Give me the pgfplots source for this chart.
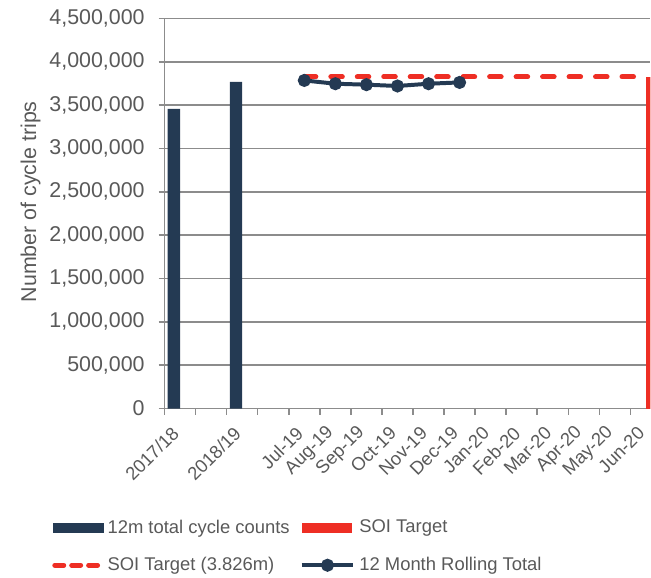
\documentclass[border=0pt]{standalone}
\usepackage{fontspec}
\setmainfont{Liberation Sans}
\usepackage{pgfplots}
\pgfplotsset{compat=1.18}

\definecolor{navy}{HTML}{243A53}
\definecolor{soired}{HTML}{EE2E24}
\definecolor{txt}{HTML}{595959}
\definecolor{axgray}{HTML}{8C8C8C}

\pgfplotsset{
  barlegend/.style={legend image code/.code={\fill[#1] (0pt,-2.6pt) rectangle (25.5pt,2.6pt);}},
  linelegend/.style={legend image code/.code={\draw[mark repeat=2, mark phase=2, ##1] plot coordinates {(0pt,0pt) (13pt,0pt) (26pt,0pt)};}},
  dashlegend/.style={legend image code/.code={\draw[##1, dash pattern=on 4.5pt off 4pt] (1pt,0pt) -- (24pt,0pt);}},
}

\begin{document}
\begin{tikzpicture}
\begin{axis}[
  scale only axis,
  width=244pt, height=196pt,
  xmin=-0.5, xmax=15.14,
  ymin=0, ymax=4500000,
  axis x line*=bottom, axis y line*=left,
  axis line style={axgray, line width=0.75pt},
  tick align=outside, major tick length=3pt,
  tick style={axgray, line width=0.75pt},
  ytick={0,500000,...,4500000},
  scaled y ticks=false,
  yticklabel style={/pgf/number format/.cd, fixed, 1000 sep={,}, assume math mode=true,
    /tikz/.cd, xshift=-3.5pt},
  ymajorgrids, grid style={axgray, line width=0.75pt},
  xtick={-0.5,0.5,...,14.5},
  xticklabels={,,,,,,,,,,,,,,,,,},
  extra x ticks={0,...,15},
  extra x tick labels={2017/18,,2018/19,,Jul-19,Aug-19,Sep-19,Oct-19,Nov-19,Dec-19,Jan-20,Feb-20,Mar-20,Apr-20,May-20,Jun-20},
  extra x tick style={major tick length=0pt, grid=none,
    xticklabel style={anchor=east, inner sep=1pt, xshift=-1.5pt, yshift=-10pt, rotate=45,
      font=\fontsize{9.25}{11}\selectfont}},
  ticklabel style={font=\fontsize{10.75}{12.6}\selectfont, text=txt},
  ylabel={Number of cycle trips},
  every axis y label/.style={at={(axis description cs:-0.276,0.53)}, rotate=90, anchor=center,
    font=\fontsize{10.75}{12.6}\selectfont, text=txt},
  legend columns=2,
  legend cell align=left,
  legend style={draw=none, fill=none, font=\fontsize{9.25}{11}\selectfont, text=txt,
    at={(-0.232,-0.274)}, anchor=north west, row sep=6.5pt, inner sep=0pt,
    /tikz/every even column/.append style={column sep=3pt}},
]
\addplot[ybar, bar width=0.4, bar shift=-0.2, fill=navy, draw=none, barlegend=navy]
  coordinates {(0,3456000) (2,3767000)};
\addlegendentry{12m total cycle counts}
\addplot[ybar, bar width=0.4, bar shift=0.2, fill=soired, draw=none, overlay, barlegend=soired]
  coordinates {(15,3826000)};
\addlegendentry{SOI Target}
\addplot[soired, line width=2.5pt, line cap=round, dash pattern=on 5.8pt off 7.5pt, dashlegend]
  coordinates {(4,3826000) (15,3826000)};
\addlegendentry{SOI Target (3.826m)}
\addplot[navy, line width=2pt, mark=*, mark size=2.25pt, mark options={solid, fill=navy}, linelegend]
  coordinates {(4,3785000) (5,3747000) (6,3736000) (7,3721000) (8,3747000) (9,3762000)};
\addlegendentry{12 Month Rolling Total}
\end{axis}
\path ([yshift=1.5pt]current bounding box.north) ([xshift=-7pt]current bounding box.west);
\end{tikzpicture}
\end{document}
